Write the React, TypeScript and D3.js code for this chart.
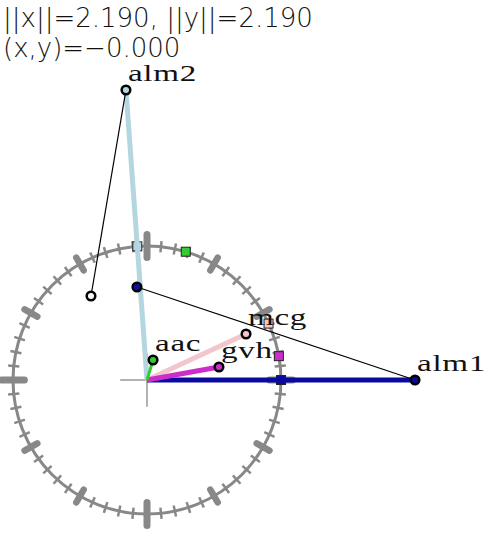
import React from "react";
import * as d3 from "d3";

const W = 489;
const H = 533;

// vectors (unit = circle radius)
const vecNames = ["alm1", "alm2", "mcg", "gvh", "aac"];
const vecX = [2.0, -0.157, 0.739, 0.537, 0.045];
const vecY = [0.0, 2.164, 0.343, 0.097, 0.149];
const vecColors = ["#0a0aa0", "#b4d6e0", "#f2c6cc", "#cc2ecc", "#33cc33"];
const vecWidths = [5, 5, 5, 5, 3];

// auxiliary points
const auxX = [-0.418, -0.075];
const auxY = [0.627, 0.694];
const auxFill = ["#f4f8fa", "#1010a0"];

const infoLines = ["||x||=2.190, ||y||=2.190", "(x,y)=\u22120.000"];
const tickDegrees = d3.range(0, 360, 6);

export default function App() {
  const cx = 147, cy = 380, r = 134;
  const x = d3.scaleLinear().domain([-1, 1]).range([cx - r, cx + r]);
  const y = d3.scaleLinear().domain([-1, 1]).range([cy + r, cy - r]);
  const grey = "#888888";

  const ticks = tickDegrees.map((deg) => {
    const a = (deg * Math.PI) / 180;
    const big = deg % 90 === 0;
    const mid = deg % 30 === 0;
    const len = big ? 0.085 : mid ? 0.055 : 0.042;
    const w = big ? 7 : mid ? 6.5 : 2.5;
    const p0 = [x((1 - len) * Math.cos(a)), y((1 - len) * Math.sin(a))];
    const p1 = [x((1 + len) * Math.cos(a)), y((1 + len) * Math.sin(a))];
    return (
      <line key={deg} x1={p0[0]} y1={p0[1]} x2={p1[0]} y2={p1[1]} stroke={grey} strokeWidth={w} strokeLinecap={big || mid ? "round" : "butt"} />
    );
  });

  const i1 = vecNames.indexOf("alm1");
  const i2 = vecNames.indexOf("alm2");

  return (
    <svg width={W} height={H} style={{ position: "absolute", left: 0, top: 0, background: "#fff" }}>
      {/* info text */}
      {infoLines.map((t, i) => (
        <text key={i} x={3} y={27 + i * 30} fontFamily="DejaVu Sans" fontWeight={200} fontSize={26} fill="#111">{t}</text>
      ))}
      {/* circle */}
      <circle cx={x(0)} cy={y(0)} r={x(1) - x(0)} fill="none" stroke={grey} strokeWidth={3} />
      {ticks}
      {/* crosshair */}
      <line x1={x(-0.2)} x2={x(0.2)} y1={y(0)} y2={y(0)} stroke="#999" strokeWidth={1.5} />
      <line x1={x(0)} x2={x(0)} y1={y(-0.2)} y2={y(0.2)} stroke="#999" strokeWidth={1.5} />
      {/* direction squares on circle */}
      {vecNames.map((n, i) => {
        const a = Math.atan2(vecY[i], vecX[i]);
        const px = x(Math.cos(a));
        const py = y(Math.sin(a));
        return <rect key={n} x={px - 4.5} y={py - 4.5} width={9} height={9} fill={vecColors[i]} stroke="#222" strokeWidth={1} />;
      })}
      {/* vectors */}
      {vecNames.map((n, i) => (
        <line key={n} x1={x(0)} y1={y(0)} x2={x(vecX[i])} y2={y(vecY[i])} stroke={vecColors[i]} strokeWidth={vecWidths[i]} />
      ))}
      {/* thin connector lines */}
      <line x1={x(vecX[i2])} y1={y(vecY[i2])} x2={x(auxX[0])} y2={y(auxY[0])} stroke="#000" strokeWidth={1.2} />
      <line x1={x(auxX[1])} y1={y(auxY[1])} x2={x(vecX[i1])} y2={y(vecY[i1])} stroke="#000" strokeWidth={1.2} />
      {/* aux points */}
      {auxX.map((v, i) => (
        <circle key={i} cx={x(v)} cy={y(auxY[i])} r={4.3} fill={auxFill[i]} stroke="#000" strokeWidth={2.5} />
      ))}
      {/* vector endpoints */}
      {vecNames.map((n, i) => (
        <circle key={n} cx={x(vecX[i])} cy={y(vecY[i])} r={4.3} fill={vecColors[i]} stroke="#000" strokeWidth={2.5} />
      ))}
      {/* labels */}
      {vecNames.map((n, i) => {
        const lx = x(vecX[i]) + 2;
        const ly = y(vecY[i]) - 9;
        return (
          <text key={n} transform={`translate(${lx},${ly}) scale(1.38,1)`} fontFamily="Liberation Serif" fontSize={24} fill="#111" letterSpacing={0.5}>{n}</text>
        );
      })}
    </svg>
  );
}
